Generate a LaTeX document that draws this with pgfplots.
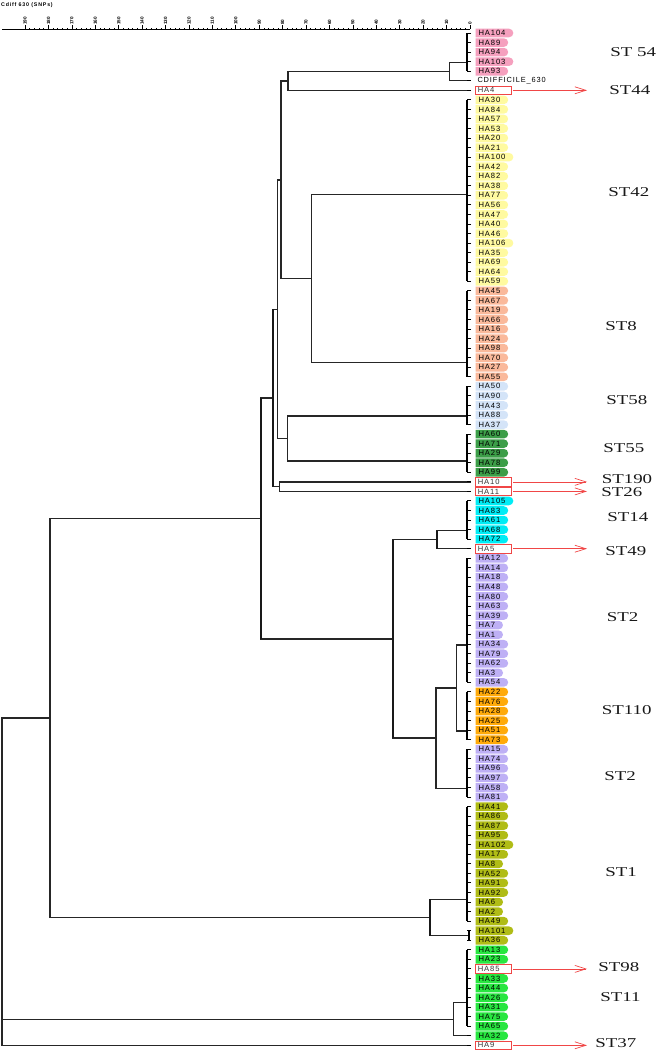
\documentclass[border=0pt]{standalone}
\usepackage{pgfplots}
\pgfplotsset{compat=1.18}
\usepackage{pgfplotstable}
\usetikzlibrary{shapes.misc,arrows.meta}
\usepackage{fontspec}
\setmainfont{Liberation Sans}
\newfontfamily\lsans{Liberation Sans}[LetterSpace=12]
\newfontfamily\rsans{Liberation Sans}
\newfontfamily\tsans{Liberation Sans}[LetterSpace=15]
\newfontfamily\stfont{Liberation Serif}

\definecolor{cpink}{RGB}{245,160,190}
\definecolor{cyel}{RGB}{255,250,160}
\definecolor{csal}{RGB}{250,185,155}
\definecolor{cblu}{RGB}{212,228,248}
\definecolor{cdgr}{RGB}{60,158,72}
\definecolor{ccya}{RGB}{0,236,245}
\definecolor{clav}{RGB}{190,176,245}
\definecolor{cora}{RGB}{255,170,10}
\definecolor{coli}{RGB}{176,188,22}
\definecolor{cgrn}{RGB}{40,230,64}
\definecolor{cred}{RGB}{240,70,70}

% tree in pixel units (x right, y down)
\pgfplotstableread{
x y
467 62.7
449.3 62.7
449.3 80.75
471 80.75
nan nan
449.3 71.7
288 71.7
288 90.3
471 90.3
nan nan
467 194.7
311.7 194.7
311.7 362.7
467 362.7
nan nan
288 81.0
281 81.0
281 278.7
311.7 278.7
nan nan
281 179.9
277.3 179.9
277.3 438.5
287.3 438.5
nan nan
467 416
287.3 416
287.3 461
467 461
nan nan
471 481.85
279.3 481.85
279.3 491.4
471 491.4
nan nan
277.3 309.2
273.3 309.2
273.3 486.6
279.3 486.6
nan nan
467 530.7
436.7 530.7
436.7 548.7
471 548.7
nan nan
467 645
456.7 645
456.7 731
467 731
nan nan
456.7 688
436 688
436 788.3
467 788.3
nan nan
436.7 539.7
393 539.7
393 738
436 738
nan nan
273.3 397.9
260.7 397.9
260.7 638.9
393 638.9
nan nan
467 899.3
430 899.3
430 935.5
469 935.5
nan nan
260.7 518.4
50 518.4
50 917.4
430 917.4
nan nan
467 1002.7
453.3 1002.7
453.3 1035.75
471 1035.75
nan nan
50 717.9
2 717.9
2 1045.3
471 1045.3
nan nan
2 1019.2
453.3 1019.2
}\tTree

\pgfplotstableread{
x y
260.7 397.9
260.7 638.9
nan nan
393 539.7
393 738
nan nan
273.3 309.2
273.3 486.6
nan nan
430 899.3
430 935.5
nan nan
436.7 530.7
436.7 548.7
}\tThick

\pgfplotstableread{
x y
467 33
467 71.2
nan nan
467 99.85
467 281.3
nan nan
467 290.85
467 376.8
nan nan
467 386.35
467 424.55
nan nan
467 434.1
467 472.3
nan nan
467 500.95
467 539.15
nan nan
467 558.25
467 682.4
nan nan
467 691.95
467 739.7
nan nan
467 749.25
467 797
nan nan
467 806.55
467 921.15
nan nan
469 930.7
469 940.25
nan nan
467 949.8
467 1026.2
}\tComb

\pgfplotstableread{
x y lab
469 33.00 HA104
469 42.55 HA89
469 52.10 HA94
469 61.65 HA103
469 71.20 HA93
}\tPink

\pgfplotstableread{
x y lab
469 90.30 HA4
469 481.85 HA10
469 491.40 HA11
469 548.70 HA5
469 968.90 HA85
469 1045.30 HA9
}\tRed

\pgfplotstableread{
x y lab
469 99.85 HA30
469 109.40 HA84
469 118.95 HA57
469 128.50 HA53
469 138.05 HA20
469 147.60 HA21
469 157.15 HA100
469 166.70 HA42
469 176.25 HA82
469 185.80 HA38
469 195.35 HA77
469 204.90 HA56
469 214.45 HA47
469 224.00 HA40
469 233.55 HA46
469 243.10 HA106
469 252.65 HA35
469 262.20 HA69
469 271.75 HA64
469 281.30 HA59
}\tYel

\pgfplotstableread{
x y lab
469 290.85 HA45
469 300.40 HA67
469 309.95 HA19
469 319.50 HA66
469 329.05 HA16
469 338.60 HA24
469 348.15 HA98
469 357.70 HA70
469 367.25 HA27
469 376.80 HA55
}\tSal

\pgfplotstableread{
x y lab
469 386.35 HA50
469 395.90 HA90
469 405.45 HA43
469 415.00 HA88
469 424.55 HA37
}\tBlu

\pgfplotstableread{
x y lab
469 434.10 HA60
469 443.65 HA71
469 453.20 HA29
469 462.75 HA78
469 472.30 HA99
}\tDgr

\pgfplotstableread{
x y lab
469 500.95 HA105
469 510.50 HA83
469 520.05 HA61
469 529.60 HA68
469 539.15 HA72
}\tCya

\pgfplotstableread{
x y lab
469 558.25 HA12
469 567.80 HA14
469 577.35 HA18
469 586.90 HA48
469 596.45 HA80
469 606.00 HA63
469 615.55 HA39
469 625.10 HA7
469 634.65 HA1
469 644.20 HA34
469 653.75 HA79
469 663.30 HA62
469 672.85 HA3
469 682.40 HA54
469 749.25 HA15
469 758.80 HA74
469 768.35 HA96
469 777.90 HA97
469 787.45 HA58
469 797.00 HA81
}\tLav

\pgfplotstableread{
x y lab
469 691.95 HA22
469 701.50 HA76
469 711.05 HA28
469 720.60 HA25
469 730.15 HA51
469 739.70 HA73
}\tOra

\pgfplotstableread{
x y lab
469 806.55 HA41
469 816.10 HA86
469 825.65 HA87
469 835.20 HA95
469 844.75 HA102
469 854.30 HA17
469 863.85 HA8
469 873.40 HA52
469 882.95 HA91
469 892.50 HA92
469 902.05 HA6
469 911.60 HA2
469 921.15 HA49
469 930.70 HA101
469 940.25 HA36
}\tOli

\pgfplotstableread{
x y lab
469 949.80 HA13
469 959.35 HA23
469 978.45 HA33
469 988.00 HA44
469 997.55 HA26
469 1007.10 HA31
469 1016.65 HA75
469 1026.20 HA65
469 1035.75 HA32
}\tGrn

\pgfplotstableread{
x y u
513 90.30 74
513 481.85 74
513 491.40 74
513 548.70 74
513 968.90 74
513 1045.30 74
}\tArrow

\tikzset{
  leaf/.style={font=\lsans\fontsize{7.6}{8}\selectfont, anchor=west, xshift=6pt,
    shape=rounded rectangle, rounded rectangle left arc=none,
    inner xsep=3pt, inner ysep=0pt, minimum height=8.6pt, text=black},
  redleaf/.style={font=\lsans\fontsize{7.6}{8}\selectfont, anchor=west, xshift=6pt,
    shape=rectangle, draw=cred, fill=white, line width=0.7pt,
    inner xsep=2.5pt, inner ysep=0pt, minimum height=8.6pt,
    text width=31pt, align=left, text=black!80},
  stlab/.style={font=\stfont\fontsize{13.5}{14}\selectfont, xscale=1.4,
    anchor=west, inner sep=0pt, text=black!90}
}
\pgfplotsset{
  leafplot/.style={only marks, mark=-, mark size=2pt,
    mark options={black, line width=1pt},
    point meta=explicit symbolic,
    nodes near coords={\pgfplotspointmeta\kern4pt},
    nodes near coords align={horizontal},
    nodes near coords style={leaf, fill=#1}}
}

\begin{document}
\begin{tikzpicture}
\begin{axis}[at={(0,0)}, anchor=south west, scale only axis,
  width=656pt, height=1050pt, xmin=0, xmax=656, ymin=0, ymax=1050,
  y dir=reverse, hide axis, clip=false, unbounded coords=jump]
\addplot[draw=none, forget plot] coordinates {(0,0) (656,1050)};
% tree
\addplot[black!85, line width=1.4pt] table[x=x,y=y] {\tTree};
\addplot[black!90, line width=2.1pt] table[x=x,y=y] {\tThick};
\addplot[black, line width=1.8pt] table[x=x,y=y] {\tComb};
% arrows
\addplot[cred, line width=0.7pt, -{Straight Barb[length=11pt,width=7pt]},
  quiver={u=\thisrow{u}, v=0}] table[x=x,y=y] {\tArrow};
% leaves
\addplot[leafplot=cpink] table[x=x,y=y,meta=lab] {\tPink};
\addplot[leafplot=cyel] table[x=x,y=y,meta=lab] {\tYel};
\addplot[leafplot=csal] table[x=x,y=y,meta=lab] {\tSal};
\addplot[leafplot=cblu] table[x=x,y=y,meta=lab] {\tBlu};
\addplot[leafplot=cdgr] table[x=x,y=y,meta=lab] {\tDgr};
\addplot[leafplot=ccya] table[x=x,y=y,meta=lab] {\tCya};
\addplot[leafplot=clav] table[x=x,y=y,meta=lab] {\tLav};
\addplot[leafplot=cora] table[x=x,y=y,meta=lab] {\tOra};
\addplot[leafplot=coli] table[x=x,y=y,meta=lab] {\tOli};
\addplot[leafplot=cgrn] table[x=x,y=y,meta=lab] {\tGrn};
\addplot[only marks, mark=-, mark size=2pt, mark options={black, line width=1pt},
  point meta=explicit symbolic, nodes near coords={\pgfplotspointmeta},
  nodes near coords align={horizontal},
  nodes near coords style={redleaf}] table[x=x,y=y,meta=lab] {\tRed};
\addplot[only marks, mark=-, mark size=2pt, mark options={black, line width=1pt},
  point meta=explicit symbolic, nodes near coords={\pgfplotspointmeta},
  nodes near coords align={horizontal},
  nodes near coords style={font=\lsans\fontsize{7.4}{8}\selectfont, anchor=west,
    xshift=6pt, inner xsep=2pt, inner ysep=0pt, text=black}]
  coordinates {(469,80.75) [CDIFFICILE\_630]};
% sequence-type labels
\node[stlab] at (axis cs:610,52) {ST 54};
\node[stlab] at (axis cs:609,90) {ST44};
\node[stlab] at (axis cs:608,192) {ST42};
\node[stlab] at (axis cs:605,326) {ST8};
\node[stlab] at (axis cs:606,400) {ST58};
\node[stlab] at (axis cs:603,448) {ST55};
\node[stlab] at (axis cs:601.5,479) {ST190};
\node[stlab] at (axis cs:601,492.5) {ST26};
\node[stlab] at (axis cs:607,516.7) {ST14};
\node[stlab] at (axis cs:605,550.7) {ST49};
\node[stlab] at (axis cs:606.5,616.7) {ST2};
\node[stlab] at (axis cs:601.5,710) {ST110};
\node[stlab] at (axis cs:604,775.7) {ST2};
\node[stlab] at (axis cs:605,872) {ST1};
\node[stlab] at (axis cs:598,967.3) {ST98};
\node[stlab] at (axis cs:600,996.7) {ST11};
\node[stlab] at (axis cs:595,1043.5) {ST37};
% ruler title
\node[anchor=north west, inner sep=0pt, font=\tsans\bfseries\fontsize{5.3}{6}\selectfont]
  at (axis cs:1,2.5) {Cdiff 630 (SNPs)};
\end{axis}
% scale ruler
\begin{axis}[at={(1.6pt,1020.5pt)}, anchor=north west, scale only axis,
  width=468.4pt, height=1pt, xmin=0, xmax=200, x dir=reverse, ymin=0, ymax=1,
  axis x line=top, axis y line=none,
  x axis line style={-, line width=0.9pt, black},
  xtick={0,10,...,190}, minor x tick num=4,
  tick align=outside, major tick length=4pt, minor tick length=1.4pt,
  every tick/.style={black, line width=0.7pt},
  xticklabel style={rotate=90, anchor=west, inner sep=0.6pt,
    font=\rsans\bfseries\fontsize{4.6}{5}\selectfont},
  /pgf/number format/assume math mode=true, clip=false]
\addplot[draw=none] coordinates {(0,0) (200,1)};
\end{axis}
\end{tikzpicture}
\end{document}
